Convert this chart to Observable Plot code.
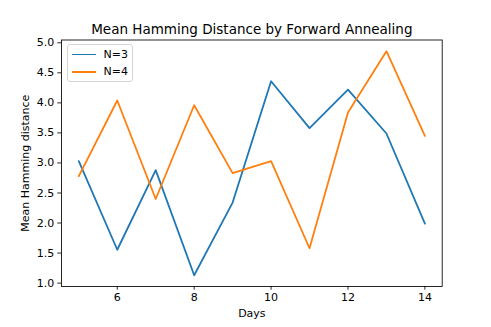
<!DOCTYPE html>
<html>
<head>
<meta charset="utf-8">
<script src="https://cdn.jsdelivr.net/npm/d3@7"></script>
<script src="https://cdn.jsdelivr.net/npm/@observablehq/plot@0.6"></script>
<style>
  html, body { margin: 0; padding: 0; background: #fff; }
  #wrap { position: relative; width: 491px; height: 327px; font-family: "DejaVu Sans", sans-serif; }
  #legend { position: absolute; left: 67px; top: 44px; width: 66px; height: 38px; box-sizing: border-box;
            border: 1px solid #d4d4d4; border-radius: 3px; background: rgba(255,255,255,0.8); }
  #legend .row { position: absolute; left: 0; height: 14px; display: flex; align-items: center; font-size: 11px; color: #000; }
  #legend .sw { display: inline-block; width: 24px; height: 1.8px; margin-left: 3.5px; margin-right: 8px; }
</style>
</head>
<body>
<div id="wrap"></div>
<script>
const days = [5, 6, 7, 8, 9, 10, 11, 12, 13, 14];
const n3 = [3.03, 1.555, 2.88, 1.13, 2.34, 4.36, 3.58, 4.22, 3.49, 1.99];
const n4 = [2.78, 4.04, 2.40, 3.96, 2.83, 3.03, 1.58, 3.84, 4.86, 3.45];
const seriesNames = ["N=3", "N=4"];
const seriesColors = ["#1f77b4", "#ff7f0e"];
const xTicks = [6, 8, 10, 12, 14];
const yTicks = [1.0, 1.5, 2.0, 2.5, 3.0, 3.5, 4.0, 4.5, 5.0];
const titleText = "Mean Hamming Distance by Forward Annealing";
const xLabel = "Days";
const yLabel = "Mean Hamming distance";

const data3 = days.map((d, i) => ({day: d, v: n3[i]}));
const data4 = days.map((d, i) => ({day: d, v: n4[i]}));

const all = n3.concat(n4);
const lo = d3.min(all), hi = d3.max(all), pad = (hi - lo) * 0.05;
const xpad = (d3.max(days) - d3.min(days)) * 0.05;

const chart = Plot.plot({
  width: 491,
  height: 327,
  marginLeft: 61,
  marginRight: 49.3,
  marginTop: 39.5,
  marginBottom: 41,
  style: {fontFamily: "DejaVu Sans, sans-serif", fontSize: "11px", color: "#000", background: "#fff", overflow: "visible"},
  x: {domain: [d3.min(days) - xpad, d3.max(days) + xpad]},
  y: {domain: [lo - pad, hi + pad]},
  marks: [
    Plot.frame({stroke: "#000", strokeWidth: 0.85}),
    Plot.axisX({ticks: xTicks, tickSize: 3.7, tickPadding: 3.2, tickFormat: d => String(d), label: null, strokeWidth: 0.85}),
    Plot.axisY({ticks: yTicks, tickSize: 3.7, tickPadding: 3.5, tickFormat: d3.format(".1f"), label: null, strokeWidth: 0.85}),
    Plot.line(data3, {x: "day", y: "v", stroke: seriesColors[0], strokeWidth: 1.8}),
    Plot.line(data4, {x: "day", y: "v", stroke: seriesColors[1], strokeWidth: 1.8}),
    Plot.text([titleText], {frameAnchor: "top", lineAnchor: "bottom", dy: -6.3, fontSize: 13.5, fill: "#000"}),
    Plot.text([xLabel], {frameAnchor: "bottom", lineAnchor: "bottom", dy: 30.5, fontSize: 11, fill: "#000"}),
    Plot.text([yLabel], {frameAnchor: "left", dx: -36, rotate: -90, textAnchor: "middle", lineAnchor: "middle", fontSize: 11, fill: "#000"})
  ]
});

const wrap = document.getElementById("wrap");
wrap.appendChild(chart);

const legend = document.createElement("div");
legend.id = "legend";
seriesNames.forEach((name, i) => {
  const row = document.createElement("div");
  row.className = "row";
  row.style.top = (2.5 + i * 17.4) + "px";
  const sw = document.createElement("span");
  sw.className = "sw";
  sw.style.background = seriesColors[i];
  const t = document.createElement("span");
  t.textContent = name;
  row.appendChild(sw);
  row.appendChild(t);
  legend.appendChild(row);
});
wrap.appendChild(legend);
</script>
</body>
</html>
